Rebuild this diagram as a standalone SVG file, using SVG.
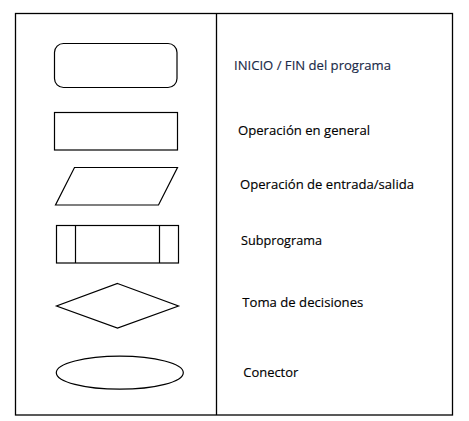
<svg xmlns="http://www.w3.org/2000/svg" width="469" height="421" viewBox="0 0 469 421">
<style>
.s{fill:#fff;stroke:#000;stroke-width:1.2}
.t{font-family:"Open Sans","Liberation Sans",sans-serif;font-size:13.5px;fill:#000;stroke:#000;stroke-width:0.15}
</style>
<rect width="469" height="421" fill="#fff"/>
<g id="frame">
<rect x="15.5" y="13.5" width="437" height="401.5" fill="none" stroke="#000" stroke-width="1.3"/>
<line x1="216.5" y1="13.5" x2="216.5" y2="415" stroke="#000" stroke-width="1.3"/>
</g>
<g id="terminal">
<rect class="s" x="54.5" y="43.5" width="122.5" height="44" rx="9" ry="9"/>
<text class="t" x="234" y="69.5" textLength="157" lengthAdjust="spacingAndGlyphs" style="fill:#1a2a48;stroke:#1a2a48">INICIO / FIN del programa</text>
</g>
<g id="process">
<rect class="s" x="54.5" y="112.5" width="123" height="37.5"/>
<text class="t" x="238" y="134.5" textLength="132" lengthAdjust="spacingAndGlyphs">Operación en general</text>
</g>
<g id="io">
<polygon class="s" points="74.5,167.5 177.5,167.5 158.5,205 55.5,205"/>
<text class="t" x="240" y="189.3" textLength="174" lengthAdjust="spacingAndGlyphs">Operación de entrada/salida</text>
</g>
<g id="subprogram">
<rect class="s" x="56.5" y="225.5" width="122" height="37.5"/>
<line x1="75.5" y1="225.5" x2="75.5" y2="263" stroke="#000" stroke-width="1.2"/>
<line x1="159.5" y1="225.5" x2="159.5" y2="263" stroke="#000" stroke-width="1.2"/>
<text class="t" x="241" y="245.3" textLength="81" lengthAdjust="spacingAndGlyphs">Subprograma</text>
</g>
<g id="decision">
<polygon class="s" points="117.5,283.5 178.5,306 117.5,328 56.5,306"/>
<text class="t" x="242.3" y="306.8" textLength="121" lengthAdjust="spacingAndGlyphs">Toma de decisiones</text>
</g>
<g id="connector">
<ellipse class="s" cx="119.8" cy="372.7" rx="63.5" ry="16.5"/>
<text class="t" x="243.3" y="376.8" textLength="55" lengthAdjust="spacingAndGlyphs">Conector</text>
</g>
<g id="connectors"/>
</svg>
